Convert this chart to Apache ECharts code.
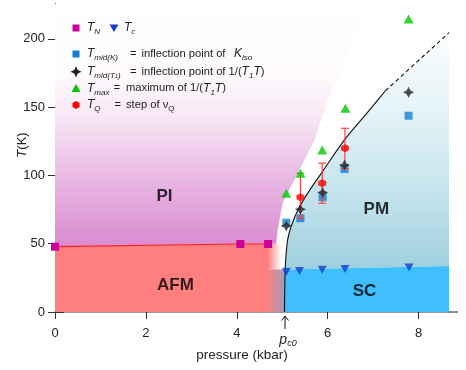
<!DOCTYPE html>
<html><head><meta charset="utf-8">
<script src="https://cdn.jsdelivr.net/npm/echarts@6/dist/echarts.min.js"></script>
<style>html,body{margin:0;padding:0;background:#fff}#c{width:466px;height:370px}</style>
</head><body><div id="c"></div>
<script>
// ---- data ----
const xTicks = [0, 2, 4, 6, 8];
const yTicks = [0, 50, 100, 150, 200];
const TN = [[0, 47.8], [4.08, 49.8], [4.69, 49.8]];
const Tc = [[5.09, 29.4], [5.38, 30], [5.88, 31], [6.38, 31.4], [7.79, 32.6]];
const TmidK = [[5.09, 65.4], [5.40, 68.6], [5.89, 84.0], [6.37, 104.7], [7.78, 143.7]];
const TmidT1 = [[5.09, 63], [5.40, 75.2], [5.89, 87.4], [6.37, 107.6], [7.78, 160.8]];
const Tmax = [[5.09, 86.9], [5.40, 101.5], [5.88, 118.6], [6.39, 149.1], [7.78, 214.5]];
const TQ = [[5.40, 84, 101.5, 68.6], [5.88, 94.2, 109, 79.6], [6.38, 119.8, 134.5, 105]];
const curveSolid = [[5.05, 0], [5.055, 15], [5.065, 31], [5.08, 40], [5.12, 53], [5.2, 63], [5.38, 77], [5.6, 89], [5.89, 103], [6.37, 126], [6.85, 145], [7.27, 162]];
const curveDash = [[7.27, 162], [8.67, 204.5]];
const piPoly = [[0, 47.8], [4.08, 49.8], [4.69, 49.8], [4.87, 50], [4.9, 60], [5.01, 80], [5.34, 101.5], [5.71, 126], [6.0, 155], [6.6, 200], [7.0, 225.5], [0, 225.5]];
const pmPoly = [[5.065, 31.2], [5.08, 40], [5.12, 53], [5.2, 63], [5.38, 77], [5.6, 89], [5.89, 103], [6.37, 126], [6.85, 145], [7.27, 162], [8.67, 204.5], [8.67, 33.7]];
const afmPoly = [[0, 0], [0, 47.8], [4.08, 49.8], [4.69, 49.8], [4.7, 49.8], [4.7, 0]];
const afmFadeHi = [[4.68, 31.2], [4.68, 49.8], [4.98, 49.8], [4.98, 31.2]];
const afmFadeLo = [[4.66, 0], [4.66, 31.2], [5.065, 31.2], [5.055, 15], [5.05, 0]];
const scPoly = [[5.05, 0], [5.055, 15], [5.065, 31.2], [8.67, 33.7], [8.67, 0]];
const regionLabels = [[2.41, 85, 'PI'], [2.65, 19.8, 'AFM'], [7.07, 75.4, 'PM'], [6.81, 14.9, 'SC']];

const G = echarts.graphic;
function polySeries(poly, fill, z) {
  return {
    type: 'custom', z: z || 1, silent: true, clip: true,
    data: [poly[0]],
    renderItem: function (params, api) {
      return { type: 'polygon', shape: { points: poly.map(p => api.coord(p)) }, style: { fill: fill } };
    }
  };
}
const starPath = 'path://M0,-10 L3.4,-3.4 L10,0 L3.4,3.4 L0,10 L-3.4,3.4 L-10,0 L-3.4,-3.4 Z';
const hexPath = 'path://M0,-10 L8.7,-5 L8.7,5 L0,10 L-8.7,5 L-8.7,-5 Z';

const chart = echarts.init(document.getElementById('c'), null, { renderer: 'canvas' });
const axisTxt = { fontFamily: 'Liberation Sans, Arial, sans-serif', fontSize: 13, color: '#222' };

const rich = {
  i: { fontStyle: 'italic', fontSize: 12, fontFamily: 'Liberation Sans, Arial', lineHeight: 16, verticalAlign: 'middle', fill: '#222' },
  s: { fontStyle: 'italic', fontSize: 8, fontFamily: 'Liberation Sans, Arial', lineHeight: 7, verticalAlign: 'bottom', fill: '#222' },
  ss: { fontStyle: 'italic', fontSize: 6, fontFamily: 'Liberation Sans, Arial', lineHeight: 4, verticalAlign: 'bottom', fill: '#222' },
  n: { fontSize: 8, fontFamily: 'Liberation Sans, Arial', lineHeight: 7, verticalAlign: 'bottom', fill: '#222' },
  r: { fontSize: 11.2, fontFamily: 'Liberation Sans, Arial', lineHeight: 16, verticalAlign: 'middle', fill: '#222' }
};
function txt(x, y, t, extra) {
  return Object.assign({ type: 'text', z: 100, style: { x: x, y: y, text: t, rich: rich, verticalAlign: 'middle', font: '11px Liberation Sans, Arial', fill: '#222' } }, extra || {});
}

const legendRows = [28, 54, 71.7, 88.3, 105];
const graphics = [
  // legend symbols
  { type: 'rect', z: 100, shape: { x: 72.5, y: legendRows[0] - 3.5, width: 7, height: 7 }, style: { fill: '#cc0099' } },
  { type: 'polygon', z: 100, shape: { points: [[109.5, 24.5], [118.5, 24.5], [114, 32]] }, style: { fill: '#1040cc' } },
  { type: 'rect', z: 100, shape: { x: 72.5, y: legendRows[1] - 3.5, width: 7, height: 7 }, style: { fill: '#1580d0' } },
  { type: 'polygon', z: 100, shape: { points: [[76, 66.2], [77.8, 69.9], [81.5, 71.7], [77.8, 73.5], [76, 77.2], [74.2, 73.5], [70.5, 71.7], [74.2, 69.9]] }, style: { fill: '#222' } },
  { type: 'polygon', z: 100, shape: { points: [[71.5, 92], [80.5, 92], [76, 84]] }, style: { fill: '#00c800' } },
  { type: 'polygon', z: 100, shape: { points: [[76, 101], [79.5, 103], [79.5, 107], [76, 109], [72.5, 107], [72.5, 103]] }, style: { fill: '#ff0000' } },
  // legend texts
  txt(87, legendRows[0], '{i|T}{s|N}'),
  txt(124, legendRows[0], '{i|T}{s|c}'),
  txt(87, legendRows[1], '{i|T}{s|mid(K)}'),
  txt(130, legendRows[1], '{r|=}'),
  txt(141.5, legendRows[1], '{r|inflection point of}'),
  txt(234, legendRows[1], '{i|K}{s|iso}'),
  txt(87, legendRows[2], '{i|T}{s|mid(T}{ss|1}{s|)}'),
  txt(130, legendRows[2], '{r|=}'),
  txt(141.5, legendRows[2], '{r|inflection point of 1/(}{i|T}{s|1}{i|T}{r|)}'),
  txt(87, legendRows[3], '{i|T}{s|max}'),
  txt(113.5, legendRows[3], '{r|=}'),
  txt(126, legendRows[3], '{r|maximum of 1/(}{i|T}{s|1}{i|T}{r|)}'),
  txt(87, legendRows[4], '{i|T}{s|Q}'),
  txt(114.5, legendRows[4], '{r|=}'),
  txt(126, legendRows[4], '{r|step of ν}{n|Q}'),
  // axis title y
  { type: 'text', z: 100, rotation: Math.PI / 2, x: 22, y: 145,
    style: { text: '{a|T}{b|(K)}', rich: { a: { fontStyle: 'italic', fontSize: 13, fontFamily: 'Liberation Sans, Arial', fill: '#222' }, b: { fontSize: 13, fontFamily: 'Liberation Sans, Arial', fill: '#222' } }, align: 'center', verticalAlign: 'middle' } },
  // x axis title
  { type: 'text', z: 100, style: { x: 242, y: 355, text: 'pressure (kbar)', font: '13.5px Liberation Sans, Arial', fill: '#222', align: 'center', verticalAlign: 'middle' } },
  // pc0 arrow
  { type: 'line', z: 100, shape: { x1: 285, y1: 329, x2: 285, y2: 316 }, style: { stroke: '#111', lineWidth: 1 } },
  { type: 'polyline', z: 100, shape: { points: [[281.5, 320.5], [285, 316], [288.5, 320.5]] }, style: { stroke: '#111', lineWidth: 1, fill: null } },
  { type: 'text', z: 100, style: { x: 288, y: 340, text: '{a|p}{b|c0}', rich: { a: { fontStyle: 'italic', fontSize: 14, fontFamily: 'Liberation Sans, Arial', fill: '#222', lineHeight: 16, verticalAlign: 'middle' }, b: { fontStyle: 'italic', fontSize: 9, fontFamily: 'Liberation Sans, Arial', fill: '#222', lineHeight: 8, verticalAlign: 'bottom' } }, align: 'center', verticalAlign: 'middle' } },
  // x axis line extension
  { type: 'line', z: 100, shape: { x1: 449, y1: 312, x2: 458, y2: 312 }, style: { stroke: '#222', lineWidth: 1 } }
];

chart.setOption({
  animation: false,
  grid: { left: 55, right: 17, top: 4, bottom: 58 },
  xAxis: [
    { type: 'value', min: 0, max: 8.67, position: 'bottom',
      axisLine: { show: true, lineStyle: { color: '#222', width: 1 } },
      axisTick: { show: true, length: 7, lineStyle: { color: '#333' }, customValues: xTicks },
      axisLabel: Object.assign({ margin: 15, customValues: xTicks }, axisTxt),
      splitLine: { show: false } },
    { type: 'value', min: 0, max: 8.67, position: 'top',
      axisLine: { show: true, lineStyle: { color: '#999', width: 2 } },
      axisTick: { show: false }, axisLabel: { show: false }, splitLine: { show: false } }
  ],
  yAxis: [
    { type: 'value', min: 0, max: 225.5, position: 'left',
      axisLine: { show: true, lineStyle: { color: '#222', width: 1 } },
      axisTick: { show: true, length: 7, lineStyle: { color: '#333' }, customValues: yTicks },
      axisLabel: Object.assign({ margin: 10, customValues: yTicks }, axisTxt),
      splitLine: { show: false } },
    { type: 'value', min: 0, max: 225.5, position: 'right',
      axisLine: { show: true, lineStyle: { color: '#222', width: 1 } },
      axisTick: { show: true, length: 9, lineStyle: { color: '#333' }, customValues: yTicks },
      axisLabel: { show: false }, splitLine: { show: false } }
  ],
  graphic: graphics,
  series: [
    polySeries(piPoly, new G.LinearGradient(0, 0, 0, 1, [
      { offset: 0, color: '#ffffff' }, { offset: 0.3, color: '#fefafd' }, { offset: 0.45, color: '#f8eaf6' },
      { offset: 0.65, color: '#edc4e8' }, { offset: 0.8, color: '#e4aade' }, { offset: 1, color: '#d98bcf' }]), 1),
    polySeries(pmPoly, new G.LinearGradient(0, 0, 0, 1, [
      { offset: 0, color: '#fbfdfe' }, { offset: 0.35, color: '#e3f2f7' }, { offset: 0.75, color: '#bde0ea' }, { offset: 1, color: '#9ecfdd' }]), 1),
    polySeries(afmPoly, '#ff7f7f', 2),
    polySeries(afmFadeHi, new G.LinearGradient(0, 0, 1, 0, [
      { offset: 0, color: 'rgba(255,127,127,1)' }, { offset: 1, color: 'rgba(255,255,255,1)' }]), 2),
    polySeries(afmFadeLo, new G.LinearGradient(0, 0, 1, 0, [
      { offset: 0, color: '#ff7f7f' }, { offset: 1, color: '#9e9cbc' }]), 2),
    polySeries(scPoly, '#40bfff', 3),
    { type: 'line', z: 5, data: curveSolid, showSymbol: false, smooth: 0.3, silent: true,
      lineStyle: { color: '#111', width: 1.1 } },
    { type: 'line', z: 5, data: curveDash, showSymbol: false, silent: true,
      lineStyle: { color: '#111', width: 1.1, type: [4, 3] } },
    { type: 'line', z: 6, data: TN, symbol: 'rect', symbolSize: 8, showAllSymbol: true, silent: true,
      itemStyle: { color: '#cc0099' }, lineStyle: { color: '#ff2020', width: 1.2 } },
    { type: 'scatter', z: 6, data: Tc, symbol: 'triangle', symbolRotate: 180, symbolSize: [9, 8], silent: true, itemStyle: { color: '#1040cc' } },
    { type: 'scatter', z: 6, data: TmidK, symbol: 'rect', symbolSize: 8, silent: true, itemStyle: { color: '#1580d0' } },
    { type: 'custom', z: 7, silent: true, data: TQ,
      renderItem: function (params, api) {
        const x = api.value(0);
        const top = api.coord([x, api.value(2)]);
        const bot = api.coord([x, api.value(3)]);
        const st = { stroke: '#ff4040', lineWidth: 1.2 };
        return { type: 'group', children: [
          { type: 'line', shape: { x1: top[0], y1: top[1], x2: bot[0], y2: bot[1] }, style: st },
          { type: 'line', shape: { x1: top[0] - 4, y1: top[1], x2: top[0] + 4, y2: top[1] }, style: st },
          { type: 'line', shape: { x1: bot[0] - 4, y1: bot[1], x2: bot[0] + 4, y2: bot[1] }, style: st }
        ] };
      } },
    { type: 'scatter', z: 8, data: TmidT1, symbol: starPath, symbolSize: 11, silent: true, itemStyle: { color: '#222' } },
    { type: 'scatter', z: 8, data: Tmax, symbol: 'triangle', symbolSize: [10, 9], silent: true, itemStyle: { color: '#00c800' } },
    { type: 'scatter', z: 9, data: TQ.map(d => [d[0], d[1]]), symbol: hexPath, symbolSize: 8, silent: true, itemStyle: { color: '#ff0000' } },
    { type: 'scatter', z: 10, data: regionLabels, symbolSize: 0, silent: true,
      label: { show: true, position: 'inside', formatter: p => p.data[2], fontSize: 17, fontWeight: 'bold', color: '#000', fontFamily: 'Liberation Sans, Arial' } }
  ]
});
</script></body></html>
